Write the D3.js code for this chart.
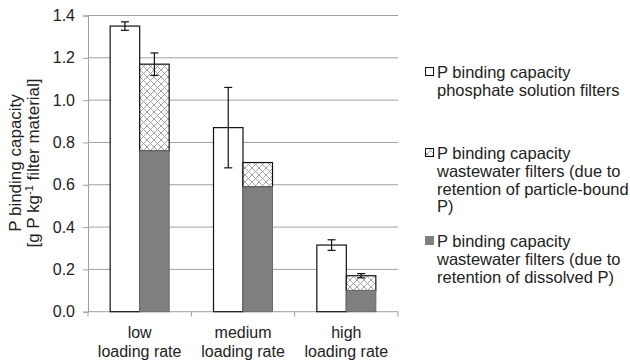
<!DOCTYPE html>
<html>
<head>
<meta charset="utf-8">
<title>P binding capacity</title>
<style>
  body { margin: 0; background: #fff; }
  text { font-family: "Liberation Sans", Arial, sans-serif; fill: #222; }
</style>
</head>
<body>
<script src="https://d3js.org/d3.v7.min.js"></script>
<script>
// data
var categories = ["low|loading rate", "medium|loading rate", "high|loading rate"];
var solution = [1.35, 0.87, 0.315];          // phosphate solution filters
var solutionErr = [0.02, 0.19, 0.025];
var dissolved = [0.76, 0.59, 0.10];          // wastewater, dissolved P
var wasteTotal = [1.17, 0.705, 0.17];        // wastewater total (dissolved + particle-bound)
var wasteErr = [0.053, 0, 0.01];
var yTicks = [0, 0.2, 0.4, 0.6, 0.8, 1.0, 1.2, 1.4];
var legendItems = [
  ["P binding capacity", "phosphate solution filters"],
  ["P binding capacity", "wastewater filters (due to", "retention of particle-bound", "P)"],
  ["P binding capacity", "wastewater filters (due to", "retention of dissolved P)"]
];

var width = 630, height = 362;
var svg = d3.select("body").append("svg").attr("width", width).attr("height", height);

// cross hatch pattern
var defs = svg.append("defs");
var pat = defs.append("pattern").attr("id", "hatch").attr("patternUnits", "userSpaceOnUse")
  .attr("width", 7).attr("height", 7);
pat.append("rect").attr("width", 7).attr("height", 7).attr("fill", "#fff");
pat.append("path").attr("d", "M0,0 L7,7 M7,0 L0,7").attr("stroke", "#9a9a9a").attr("stroke-width", 0.9);

var x0 = 88, x1 = 398, yTop = 15.5, yBot = 311.7;
var x = d3.scaleBand().domain(categories).range([x0, x1]);
var y = d3.scaleLinear().domain([0, 1.4]).range([yBot, yTop]);
var barW = 29.5;

// gridlines
svg.append("g").selectAll("line").data(yTicks.slice(1)).enter().append("line")
  .attr("x1", x0).attr("x2", x1)
  .attr("y1", function (d) { return y(d); }).attr("y2", function (d) { return y(d); })
  .attr("stroke", "#a0a0a0").attr("stroke-width", 1);

// y axis
var yAxis = svg.append("g").attr("transform", "translate(" + x0 + ",0)")
  .call(d3.axisLeft(y).tickValues(yTicks).tickFormat(d3.format(".1f")).tickSize(5).tickPadding(8));
yAxis.select(".domain").attr("stroke", "#a0a0a0");
yAxis.selectAll(".tick line").attr("stroke", "#a0a0a0");
yAxis.selectAll("text").style("font-size", "16px").attr("fill", "#222")
  .style("font-family", "Liberation Sans, Arial, sans-serif");

// x axis line and ticks
svg.append("line").attr("x1", x0).attr("x2", x1).attr("y1", yBot).attr("y2", yBot)
  .attr("stroke", "#a0a0a0");
var xt = [x0].concat(categories.map(function (c) { return x(c) + x.bandwidth(); }));
svg.append("g").selectAll("line").data(xt).enter().append("line")
  .attr("x1", function (d) { return d; }).attr("x2", function (d) { return d; })
  .attr("y1", yBot).attr("y2", yBot + 5).attr("stroke", "#a0a0a0");

// category labels
categories.forEach(function (c) {
  var parts = c.split("|");
  var t = svg.append("text").attr("x", x(c) + x.bandwidth() / 2).attr("y", 338)
    .attr("text-anchor", "middle").style("font-size", "16px");
  t.append("tspan").attr("x", x(c) + x.bandwidth() / 2).text(parts[0]);
  t.append("tspan").attr("x", x(c) + x.bandwidth() / 2).attr("dy", 18.5).text(parts[1]);
});

var g = svg.append("g");
categories.forEach(function (c, i) {
  var cx = x(c) + x.bandwidth() / 2;
  // solution bar
  g.append("rect").attr("x", cx - barW).attr("width", barW)
    .attr("y", y(solution[i])).attr("height", yBot - y(solution[i]))
    .attr("fill", "#fff").attr("stroke", "#111").attr("stroke-width", 1.2);
  // hatched (particle bound) segment
  g.append("rect").attr("x", cx).attr("width", barW)
    .attr("y", y(wasteTotal[i])).attr("height", y(dissolved[i]) - y(wasteTotal[i]))
    .attr("fill", "url(#hatch)").attr("stroke", "#111").attr("stroke-width", 1.2);
  // dissolved segment
  g.append("rect").attr("x", cx).attr("width", barW)
    .attr("y", y(dissolved[i])).attr("height", yBot - y(dissolved[i]))
    .attr("fill", "#7f7f7f").attr("stroke", "#6a6a6a").attr("stroke-width", 1);
});

// error bars
function errBar(cx, v, e) {
  if (!e) return;
  var s = g.append("g").attr("stroke", "#111").attr("stroke-width", 1.2);
  s.append("line").attr("x1", cx).attr("x2", cx).attr("y1", y(v + e)).attr("y2", y(v - e));
  s.append("line").attr("x1", cx - 4).attr("x2", cx + 4).attr("y1", y(v + e)).attr("y2", y(v + e));
  s.append("line").attr("x1", cx - 4).attr("x2", cx + 4).attr("y1", y(v - e)).attr("y2", y(v - e));
}
categories.forEach(function (c, i) {
  var cx = x(c) + x.bandwidth() / 2;
  errBar(cx - barW / 2, solution[i], solutionErr[i]);
  errBar(cx + barW / 2, wasteTotal[i], wasteErr[i]);
});

// y title
var yt = svg.append("text").attr("transform", "translate(21,163) rotate(-90)")
  .attr("text-anchor", "middle").style("font-size", "17px");
yt.append("tspan").attr("x", 0).attr("y", 0).text("P binding capacity");
var l2 = yt.append("tspan").attr("x", 0).attr("y", 18);
l2.append("tspan").text("[g P kg");
l2.append("tspan").attr("dy", -6).style("font-size", "11px").text("-1");
l2.append("tspan").attr("dy", 6).text(" filter material]");

// legend
var legY = [78, 159, 247];
var swatch = ["#fff", "url(#hatch)", "#7f7f7f"];
var swStroke = ["#111", "#111", "#7f7f7f"];
legendItems.forEach(function (lines, i) {
  svg.append("rect").attr("x", 425.5).attr("y", legY[i] - 10.5).attr("width", 8).attr("height", 8)
    .attr("fill", swatch[i]).attr("stroke", swStroke[i]).attr("stroke-width", 1);
  var t = svg.append("text").attr("x", 437).attr("y", legY[i]).style("font-size", "16.5px");
  lines.forEach(function (ln, j) {
    t.append("tspan").attr("x", 437).attr("y", legY[i] + j * 17.8).text(ln);
  });
});
</script>
</body>
</html>
